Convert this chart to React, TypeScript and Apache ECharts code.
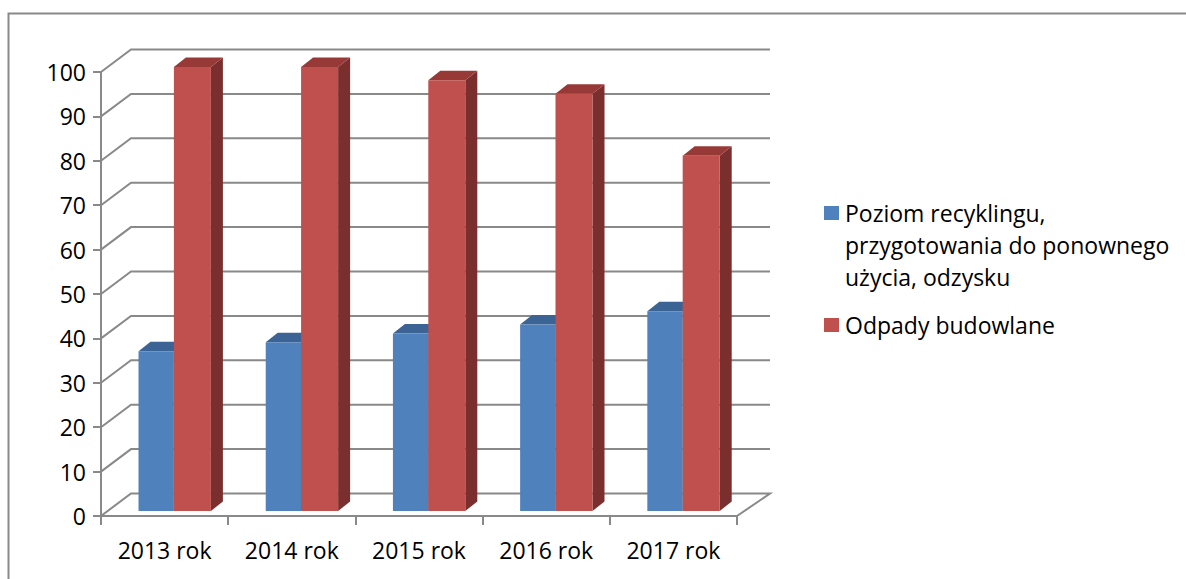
import React, { useEffect, useRef } from "react";
import * as echarts from "echarts";

const categories = ["2013 rok", "2014 rok", "2015 rok", "2016 rok", "2017 rok"];
const seriesNames = [
  "Poziom recyklingu,\nprzygotowania do ponownego\nużycia, odzysku",
  "Odpady budowlane",
];
const recyclingValues = [36, 38, 40, 42, 45];
const wasteValues = [100, 100, 97, 94, 80];
const yTicks = [0, 10, 20, 30, 40, 50, 60, 70, 80, 90, 100];

const FONT = "'Open Sans', sans-serif";
const GRID_COLOR = "#898989";
const WALL_DX_L = 30;
const WALL_DX_R = 33;
const WALL_DY = -22.5;

const palettes = [
  { front: "#4F81BD", top: "#3B6394", side: "#385D8A" },
  { front: "#C0504D", top: "#973A37", side: "#7A2E2D" },
];

function makeBarRender(seriesIdx: number) {
  return (params: any, api: any) => {
    const i = api.value(0);
    const v = api.value(1);
    const top = api.coord([i, v]);
    const base = api.coord([i, 0]);
    const bw = api.size([1, 0])[0];
    const cx = top[0];
    const l = seriesIdx === 0 ? cx - 0.205 * bw : cx + 0.073 * bw;
    const r = seriesIdx === 0 ? cx + 0.073 * bw : cx + 0.364 * bw;
    const yT = top[1] - 5;
    const yB = base[1] - 5;
    const dx = 12;
    const dy = -9.5;
    const p = palettes[seriesIdx];
    return {
      type: "group",
      children: [
        {
          type: "polygon",
          shape: { points: [[r, yB], [r + dx, yB + dy], [r + dx, yT + dy], [r, yT]] },
          style: { fill: p.side },
        },
        {
          type: "polygon",
          shape: { points: [[l, yT], [r, yT], [r + dx, yT + dy], [l + dx, yT + dy]] },
          style: { fill: p.top },
        },
        {
          type: "polygon",
          shape: { points: [[l, yB], [r, yB], [r, yT], [l, yT]] },
          style: { fill: p.front },
        },
      ],
    };
  };
}

function gridRender(params: any, api: any) {
  const v = api.value(0);
  const y = api.coord([0, v])[1];
  const cs = params.coordSys;
  const x0 = cs.x;
  const x1 = cs.x + cs.width;
  const pts =
    v === 0
      ? [[x1, y], [x1 + WALL_DX_R, y + WALL_DY], [x0 + WALL_DX_L, y + WALL_DY], [x0, y]]
      : [[x0, y], [x0 + WALL_DX_L, y + WALL_DY], [x1 + WALL_DX_R, y + WALL_DY]];
  return {
    type: "polyline",
    shape: { points: pts },
    style: { stroke: GRID_COLOR, lineWidth: 2, fill: null },
  };
}

export default function App() {
  const ref = useRef<HTMLDivElement>(null);
  useEffect(() => {
    document.body.style.margin = "0";
    const chart = echarts.init(ref.current!, null, { renderer: "svg" });
    chart.setOption({
      animation: false,
      backgroundColor: "#ffffff",
      grid: { left: 101, top: 72, width: 636, height: 444 },
      xAxis: {
        type: "category",
        data: categories,
        boundaryGap: true,
        axisLine: { show: true, lineStyle: { color: GRID_COLOR, width: 2 } },
        axisTick: { show: true, length: 9, lineStyle: { color: GRID_COLOR, width: 2 } },
        axisLabel: { color: "#000", fontFamily: FONT, fontSize: 23, margin: 22 },
        splitLine: { show: false },
      },
      yAxis: {
        type: "value",
        min: 0,
        max: 100,
        interval: 10,
        axisLine: { show: true, lineStyle: { color: GRID_COLOR, width: 2 } },
        axisTick: { show: true, length: 8, lineStyle: { color: GRID_COLOR, width: 2 } },
        axisLabel: { color: "#000", fontFamily: FONT, fontSize: 23, margin: 15 },
        splitLine: { show: false },
      },
      series: [
        {
          type: "custom",
          name: "grid",
          z: 1,
          silent: true,
          data: yTicks.map((t) => [t]),
          encode: { y: 0 },
          renderItem: gridRender,
        },
        {
          type: "custom",
          name: seriesNames[0],
          z: 2,
          data: recyclingValues.map((v, i) => [i, v]),
          encode: { x: 0, y: 1 },
          renderItem: makeBarRender(0),
        },
        {
          type: "custom",
          name: seriesNames[1],
          z: 3,
          data: wasteValues.map((v, i) => [i, v]),
          encode: { x: 0, y: 1 },
          renderItem: makeBarRender(1),
        },
      ],
      graphic: [
        {
          type: "rect",
          shape: { x: 8.5, y: 13.5, width: 1200, height: 600 },
          style: { fill: null, stroke: GRID_COLOR, lineWidth: 2 },
          silent: true,
        },
        {
          type: "rect",
          shape: { x: 824, y: 206, width: 15, height: 14 },
          style: { fill: palettes[0].front },
        },
        {
          type: "text",
          x: 845,
          y: 197,
          style: {
            text: seriesNames[0],
            font: `23px ${FONT}`,
            fill: "#000",
            lineHeight: 32,
            verticalAlign: "top",
          },
        },
        {
          type: "rect",
          shape: { x: 824, y: 318, width: 15, height: 14 },
          style: { fill: palettes[1].front },
        },
        {
          type: "text",
          x: 845,
          y: 309,
          style: {
            text: seriesNames[1],
            font: `23px ${FONT}`,
            fill: "#000",
            lineHeight: 32,
            verticalAlign: "top",
          },
        },
      ],
    });
    return () => chart.dispose();
  }, []);
  return <div ref={ref} style={{ width: 1186, height: 579 }} />;
}
